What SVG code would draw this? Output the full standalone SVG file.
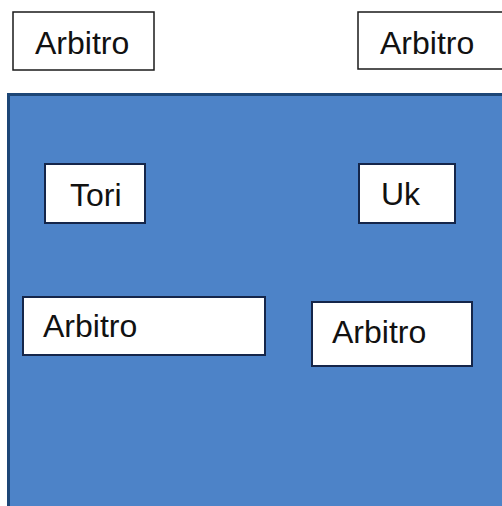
<svg xmlns="http://www.w3.org/2000/svg" width="502" height="506" viewBox="0 0 502 506">
<style>
.box{fill:#ffffff;stroke:#1a1a1a;stroke-width:1.5}
.inbox{fill:#ffffff;stroke:#15264a;stroke-width:2}
.lbl{font-family:"Liberation Sans",Arial,sans-serif;font-size:32px;fill:#111111}
</style>
<rect width="502" height="506" fill="#ffffff"/>
<g id="arbitro-top-left">
<rect class="box" x="13" y="12" width="141" height="58"/>
<text class="lbl" x="35" y="54">Arbitro</text>
</g>
<g id="arbitro-top-right">
<rect class="box" x="358" y="12" width="150" height="57"/>
<text class="lbl" x="380" y="54">Arbitro</text>
</g>
<g id="field">
<rect x="8.5" y="94.5" width="500" height="420" fill="#4d83c8" stroke="#1d4677" stroke-width="3"/>
</g>
<g id="tori">
<rect class="inbox" x="45" y="164" width="100" height="59"/>
<text class="lbl" x="70" y="206">Tori</text>
</g>
<g id="uk">
<rect class="inbox" x="359" y="164" width="96" height="59"/>
<text class="lbl" x="381" y="205">Uk</text>
</g>
<g id="arbitro-bottom-left">
<rect class="inbox" x="23" y="297" width="242" height="58"/>
<text class="lbl" x="43" y="337">Arbitro</text>
</g>
<g id="arbitro-bottom-right">
<rect class="inbox" x="312" y="302" width="160" height="64"/>
<text class="lbl" x="332" y="343">Arbitro</text>
</g>
<g id="connectors"/>
</svg>
